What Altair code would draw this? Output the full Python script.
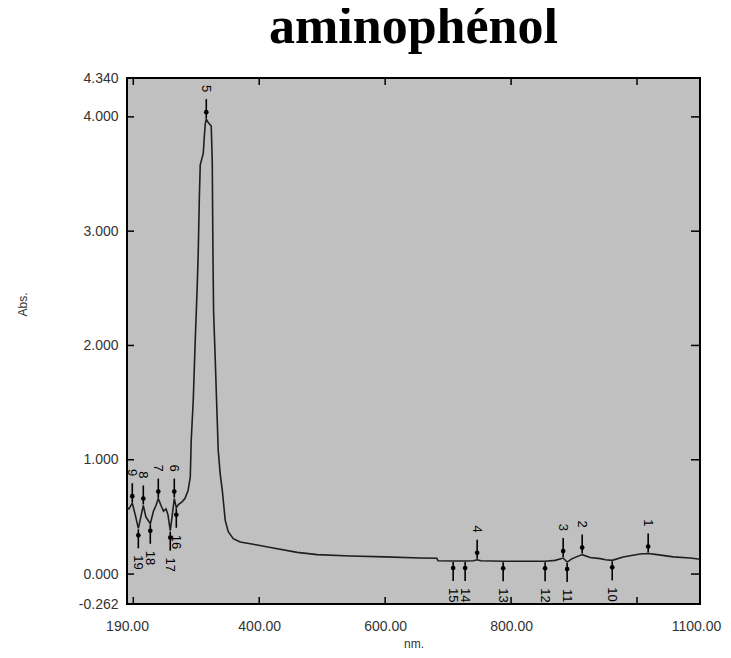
import altair as alt
import pandas as pd

# ---- spectrum ----
wavelength_nm = [190.0, 193.0, 198.4, 203.0, 208.0, 212.0, 215.9, 220.0, 227.0, 232.0,
                 236.0, 239.7, 244.0, 248.0, 252.0, 255.0, 258.7, 262.0, 265.1, 268.3,
                 272.0, 277.0, 282.0, 287.0, 290.5, 292.0, 295.2, 298.4, 301.6, 303.2,
                 304.8, 306.3, 311.1, 312.7, 314.3, 315.9, 319.0, 323.8, 325.4, 326.5,
                 327.5, 330.2, 331.7, 334.9, 338.1, 341.3, 346.0, 350.8, 358.7, 369.8,
                 396.8, 422.2, 460.3, 492.1, 544.4, 600.0, 655.6, 682.0, 684.0, 708.0,
                 727.0, 740.0, 746.1, 752.0, 787.4, 854.0, 870.0, 882.7, 889.0, 897.0,
                 912.9, 925.6, 941.5, 950.0, 960.6, 978.0, 1005.0, 1017.7, 1032.0, 1057.4,
                 1084.4, 1100.0]
absorbance = [0.58, 0.57, 0.62, 0.52, 0.40, 0.50, 0.60, 0.50, 0.44, 0.55,
              0.60, 0.66, 0.60, 0.55, 0.57, 0.52, 0.38, 0.52, 0.66, 0.58,
              0.61, 0.63, 0.66, 0.73, 0.85, 1.17, 1.52, 2.05, 2.53, 2.83,
              3.27, 3.58, 3.68, 3.82, 3.94, 3.98, 3.95, 3.92, 3.60, 2.80,
              2.30, 1.87, 1.61, 1.08, 0.87, 0.735, 0.47, 0.37, 0.31, 0.28,
              0.254, 0.228, 0.19, 0.17, 0.158, 0.15, 0.14, 0.138, 0.116, 0.114,
              0.114, 0.116, 0.125, 0.116, 0.112, 0.112, 0.12, 0.14, 0.105, 0.135,
              0.17, 0.145, 0.135, 0.125, 0.12, 0.15, 0.175, 0.18, 0.17, 0.15,
              0.14, 0.13]

# ---- picked peaks (1-9) and valleys (10-19) ----
peak_numbers = ["1", "2", "3", "4", "5", "6", "7", "8", "9",
                "10", "11", "12", "13", "14", "15", "16", "17", "18", "19"]
peak_wavelength = [1017.7, 912.9, 882.7, 746.1, 315.9, 265.1, 239.7, 215.9, 198.4,
                   960.6, 889.0, 854.0, 787.4, 727.0, 708.0, 268.3, 258.7, 227.0, 208.0]
peak_absorbance = [0.18, 0.17, 0.14, 0.125, 3.98, 0.66, 0.66, 0.60, 0.62,
                   0.12, 0.105, 0.112, 0.112, 0.114, 0.114, 0.58, 0.38, 0.44, 0.40]
peak_kind = ["max"] * 9 + ["min"] * 10

# ---- axes ----
x_label_values = [190, 400, 600, 800, 1100]
x_tick_values = [200, 400, 600, 800, 1000]
y_label_values = [-0.262, 0, 1, 2, 3, 4, 4.34]
y_tick_values = [0, 1, 2, 3, 4]

W, H = 573, 526
FONT = "Liberation Sans"

spec = pd.DataFrame({"nm": wavelength_nm, "abs": absorbance})
peaks = pd.DataFrame({"nm": peak_wavelength, "abs": peak_absorbance,
                      "label": peak_numbers, "kind": peak_kind})
xt = pd.DataFrame({"nm": x_tick_values})
yt = pd.DataFrame({"abs": y_tick_values})

xscale = alt.Scale(domain=[190, 1100], nice=False, zero=False)
yscale = alt.Scale(domain=[-0.262, 4.34], nice=False, zero=False)

x_axis = alt.Axis(values=x_label_values, format=".2f", title="nm.", ticks=False,
                  domain=False, grid=False, labelFlush=False, labelOverlap=False,
                  labelPadding=15, labelFontSize=14, labelColor="#333333",
                  labelOffset={"condition": {"test": "datum.value == 1100", "value": -4}, "value": 0},
                  titleFontSize=12, titleFontWeight="normal", titleColor="#333333",
                  titleY=43, titleBaseline="alphabetic")
y_axis = alt.Axis(values=y_label_values, title="Abs.", ticks=False,
                  labelExpr="datum.value < 0 ? '-' + format(-datum.value, '.3f') : format(datum.value, '.3f')",
                  domain=False, grid=False, labelOverlap=False, labelFlush=False,
                  labelPadding=9, labelFontSize=14, labelColor="#333333",
                  titleFontSize=12, titleFontWeight="normal", titleColor="#333333",
                  titleX=-101, titleY=226, titleBaseline="alphabetic", titleAngle=270,
                  titleAlign="center")

px = alt.X("nm:Q", scale=xscale, axis=x_axis, title="nm.")
py = alt.Y("abs:Q", scale=yscale, axis=y_axis, title="Abs.")

line = alt.Chart(spec).mark_line(color="#1e1e1e", strokeWidth=1.6, clip=True).encode(
    x=px, y=py)

tick_style = dict(color="black", strokeWidth=1.5)
xt_bottom = alt.Chart(xt).mark_rule(**tick_style).encode(
    x=px, y=alt.value(H), y2=alt.value(H - 7))
xt_top = alt.Chart(xt).mark_rule(**tick_style).encode(
    x=px, y=alt.value(0), y2=alt.value(7))
yt_left = alt.Chart(yt).mark_rule(**tick_style).encode(
    y=py, x=alt.value(0), x2=alt.value(7))
yt_right = alt.Chart(yt).mark_rule(**tick_style).encode(
    y=py, x=alt.value(W), x2=alt.value(W - 9))

up = alt.Chart(peaks).transform_filter("datum.kind == 'max'")
down = alt.Chart(peaks).transform_filter("datum.kind == 'min'")

up_rule = up.mark_rule(color="black", strokeWidth=1.6, yOffset=-20, y2Offset=-1).encode(
    x=px, y=py, y2=alt.Y2("abs:Q"))
up_dot = up.mark_circle(color="black", opacity=1, size=22, yOffset=-7).encode(x=px, y=py)
up_text = up.mark_text(angle=90, align="right", baseline="middle", yOffset=-27,
                       fontSize=13, font=FONT, color="black").encode(x=px, y=py, text="label:N")

down_rule = down.mark_rule(color="black", strokeWidth=1.6, yOffset=1, y2Offset=20).encode(
    x=px, y=py, y2=alt.Y2("abs:Q"))
down_dot = down.mark_circle(color="black", opacity=1, size=22, yOffset=7).encode(x=px, y=py)
down_text = down.mark_text(angle=90, align="left", baseline="middle", yOffset=27,
                           fontSize=13, font=FONT, color="black").encode(x=px, y=py, text="label:N")

chart = alt.layer(
    line, xt_bottom, xt_top, yt_left, yt_right,
    up_rule, up_dot, up_text, down_rule, down_dot, down_text,
).properties(
    width=W, height=H,
    title=alt.TitleParams(text="aminophénol", font="Liberation Serif", fontSize=52,
                          fontWeight="bold", anchor="middle", frame="group",
                          offset=17, color="black"),
    autosize=alt.AutoSizeParams(type="none"),
    padding={"left": 119, "top": 70, "right": 23, "bottom": 46},
).configure_view(
    fill="#c0c0c0", stroke="black", strokeWidth=2
).configure_axis(
    labelFont=FONT, titleFont=FONT
)

chart.save("out.html", embed_options={"renderer": "svg", "actions": False})
